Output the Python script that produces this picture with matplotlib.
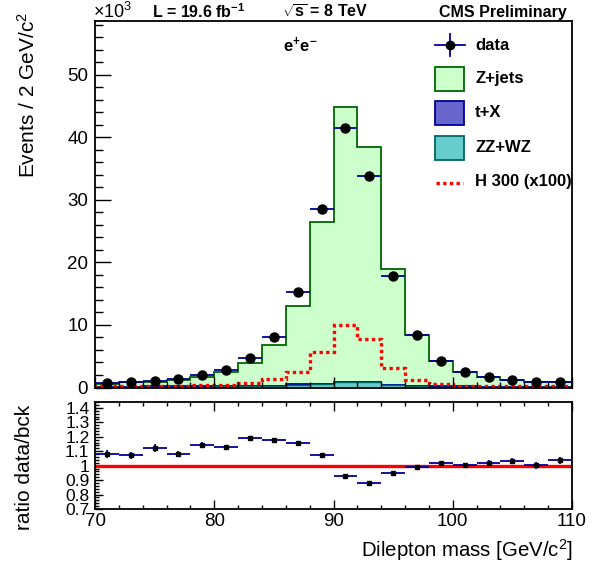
import numpy as np
import matplotlib
matplotlib.use("Agg")
import matplotlib.pyplot as plt
from matplotlib.patches import Rectangle
from matplotlib.lines import Line2D
from matplotlib.ticker import MultipleLocator

plt.rcParams['font.family'] = ['Liberation Sans', 'DejaVu Sans']
plt.rcParams['mathtext.fontset'] = 'custom'
plt.rcParams['mathtext.rm'] = 'Liberation Sans'
plt.rcParams['mathtext.bf'] = 'Liberation Sans:bold'
plt.rcParams['mathtext.it'] = 'Liberation Sans:italic'

# dilepton mass bins (GeV), 2 GeV wide
bin_edges = [70, 72, 74, 76, 78, 80, 82, 84, 86, 88, 90,
             92, 94, 96, 98, 100, 102, 104, 106, 108, 110]

# events per bin, in units of 10^3
data = [0.64, 0.86, 1.07, 1.28, 1.98, 2.78, 4.65, 8.0, 15.2, 28.6,
        41.5, 33.8, 17.8, 8.34, 4.22, 2.4, 1.66, 1.18, 0.86, 0.86]
data_err = [0.03, 0.03, 0.03, 0.04, 0.04, 0.05, 0.07, 0.09, 0.12, 0.17,
            0.2, 0.18, 0.13, 0.09, 0.06, 0.05, 0.04, 0.03, 0.03, 0.03]
zz_wz = [0.1, 0.1, 0.12, 0.13, 0.15, 0.18, 0.22, 0.22, 0.45, 0.5,
         0.8, 0.8, 0.35, 0.2, 0.15, 0.12, 0.1, 0.1, 0.1, 0.1]
t_x = [0.04, 0.04, 0.05, 0.05, 0.05, 0.05, 0.05, 0.06, 0.06, 0.07,
       0.08, 0.08, 0.07, 0.06, 0.05, 0.05, 0.04, 0.04, 0.04, 0.04]
z_jets = [0.45, 0.66, 0.78, 1.01, 1.53, 2.23, 3.63, 6.50, 12.49, 25.93,
          43.92, 37.52, 18.48, 8.19, 3.97, 2.23, 1.46, 1.00, 0.70, 0.69]
higgs_x100 = [0.3, 0.3, 0.3, 0.3, 0.35, 0.4, 0.65, 1.35, 2.55, 5.7,
              10.0, 7.7, 3.05, 1.2, 0.5, 0.3, 0.25, 0.25, 0.25, 0.25]

# ratio data / background
ratio = [1.08, 1.071, 1.123, 1.08, 1.144, 1.13, 1.193, 1.181, 1.16, 1.073,
         0.928, 0.883, 0.946, 0.99, 1.017, 1.003, 1.022, 1.031, 1.003, 1.038]
ratio_err = [0.03, 0.025, 0.025, 0.02, 0.02, 0.015, 0.012, 0.01, 0.008, 0.006,
             0.005, 0.005, 0.006, 0.01, 0.012, 0.015, 0.02, 0.022, 0.025, 0.025]

main_yticks = [0, 10, 20, 30, 40, 50]
ratio_yticks = [0.7, 0.8, 0.9, 1.0, 1.1, 1.2, 1.3, 1.4]
ratio_ylabels = ['0.7', '0.8', '0.9', '1', '1.1', '1.2', '1.3', '1.4']
xticks = [70, 80, 90, 100, 110]

edges = np.array(bin_edges, dtype=float)
centers = 0.5 * (edges[:-1] + edges[1:])
half_w = 0.5 * np.diff(edges)

zz = np.array(zz_wz)
zz_tx = zz + np.array(t_x)
total = zz_tx + np.array(z_jets)

W, H = 596, 572
fig = plt.figure(figsize=(W / 100, H / 100), dpi=100)


def fx(px):
    return px / W


def fy(py):
    return 1 - py / H


ax = fig.add_axes([fx(95), fy(387.5), fx(572) - fx(95), fy(21) - fy(387.5)])
rax = fig.add_axes([fx(95), fy(509), fx(572) - fx(95), fy(402) - fy(509)])

navy = '#000099'

# stacked backgrounds
ax.stairs(total, edges, baseline=0, fill=True, color='#ccffcc')
ax.stairs(total, edges, baseline=0, color='#006600', lw=1.3)
ax.stairs(zz_tx, edges, baseline=0, fill=True, color='#6666cc')
ax.stairs(zz_tx, edges, baseline=0, color=navy, lw=1.3)
ax.stairs(zz, edges, baseline=0, fill=True, color='#66cccc')
ax.stairs(zz, edges, baseline=0, color='#006666', lw=1.0)

# signal
ax.stairs(higgs_x100, edges, baseline=0, color='red', lw=2.4, ls=(0, (1, 1)))

# data
ax.errorbar(centers, data, xerr=half_w, yerr=data_err, fmt='o', color='black',
            ms=6.5, ecolor=navy, elinewidth=1.3, capsize=0, zorder=5)

ax.set_xlim(70, 110)
ax.set_ylim(0, 58.6)
ax.set_yticks(main_yticks)
ax.yaxis.set_minor_locator(MultipleLocator(2))
ax.set_xticks(xticks)
ax.xaxis.set_minor_locator(MultipleLocator(2))
ax.tick_params(axis='x', which='both', direction='in', labelbottom=False)
ax.tick_params(axis='x', which='major', length=8, width=1)
ax.tick_params(axis='x', which='minor', length=4, width=1)
ax.tick_params(axis='y', which='major', direction='in', length=11.5, width=1,
               labelsize=13.5, pad=5)
ax.tick_params(axis='y', which='minor', direction='in', length=6, width=1)
for s in ax.spines.values():
    s.set_linewidth(1.3)

# ratio panel
rax.axhline(1.0, color='red', lw=2.4, zorder=2)
rax.errorbar(centers, ratio, xerr=half_w, yerr=ratio_err, fmt='s', color='black',
             ms=3, ecolor=navy, elinewidth=1.3, capsize=0, zorder=5)
rax.set_xlim(70, 110)
rax.set_ylim(0.7, 1.441)
rax.set_yticks(ratio_yticks)
rax.set_yticklabels(ratio_ylabels)
rax.yaxis.set_minor_locator(MultipleLocator(0.02))
rax.set_xticks(xticks)
rax.xaxis.set_minor_locator(MultipleLocator(2))
rax.tick_params(axis='x', which='both', direction='in', top=True,
                labelsize=13.5, pad=3)
rax.tick_params(axis='x', which='major', length=6.5, width=1)
rax.tick_params(axis='x', which='minor', length=3.2, width=1)
rax.tick_params(axis='y', which='major', direction='in', length=6, width=1,
                labelsize=12.5, pad=4)
rax.tick_params(axis='y', which='minor', direction='in', length=3, width=1)
for s in rax.spines.values():
    s.set_linewidth(1.3)

# axis titles
fig.text(fx(28), fy(12), 'Events / 2 GeV/c$^2$', rotation=90,
         ha='center', va='top', fontsize=15)
fig.text(fx(25), fy(405), 'ratio data/bck', rotation=90,
         ha='center', va='top', fontsize=15)
fig.text(fx(573), fy(557), 'Dilepton mass [GeV/c$^2$]', ha='right',
         va='baseline', fontsize=14.7)

# header
fig.text(fx(93), fy(12), r'$\times$10$^3$', ha='left', va='center', fontsize=13)
fig.text(fx(152), fy(12), r'L = 19.6 fb$^{\mathbf{-1}}$', ha='left', va='center',
         fontsize=11.5, fontweight='bold')
fig.text(fx(282), fy(12), r'$\sqrt{\mathbf{s}}$ = 8 TeV', ha='left', va='center',
         fontsize=11.5, fontweight='bold')
fig.text(fx(567), fy(12), 'CMS Preliminary', ha='right', va='center',
         fontsize=11.5, fontweight='bold')
fig.text(fx(283), fy(45), r'e$^{\mathbf{+}}$e$^{\mathbf{-}}$', ha='left', va='center',
         fontsize=12, fontweight='bold')

# legend
fig.add_artist(Line2D([fx(435), fx(465)], [fy(45), fy(45)], color=navy, lw=1.3))
fig.add_artist(Line2D([fx(450), fx(450)], [fy(34), fy(56)], color=navy, lw=1.3))
fig.add_artist(Line2D([fx(450)], [fy(45)], marker='o', color='black', ms=6))
boxes = [('Z+jets', 91, '#ccffcc', '#006600'),
         ('t+X', 125, '#6666cc', navy),
         ('ZZ+WZ', 160, '#66cccc', '#006666')]
for label, ybot, fc, ec in boxes:
    fig.add_artist(Rectangle((fx(435), fy(ybot)), fx(464) - fx(435), fy(ybot - 24) - fy(ybot),
                             transform=fig.transFigure, facecolor=fc, edgecolor=ec, lw=1.3))
    fig.text(fx(475), fy(ybot - 12), label, ha='left', va='center', fontsize=12,
             fontweight='bold')
fig.text(fx(475), fy(46), 'data', ha='left', va='center', fontsize=12, fontweight='bold')
fig.add_artist(Line2D([fx(436), fx(463)], [fy(183), fy(183)], color='red', lw=2.4,
                      ls=(0, (1, 1))))
fig.text(fx(475), fy(182), 'H 300 (x100)', ha='left', va='center', fontsize=12,
         fontweight='bold')

fig.savefig('out.png', dpi=100)
